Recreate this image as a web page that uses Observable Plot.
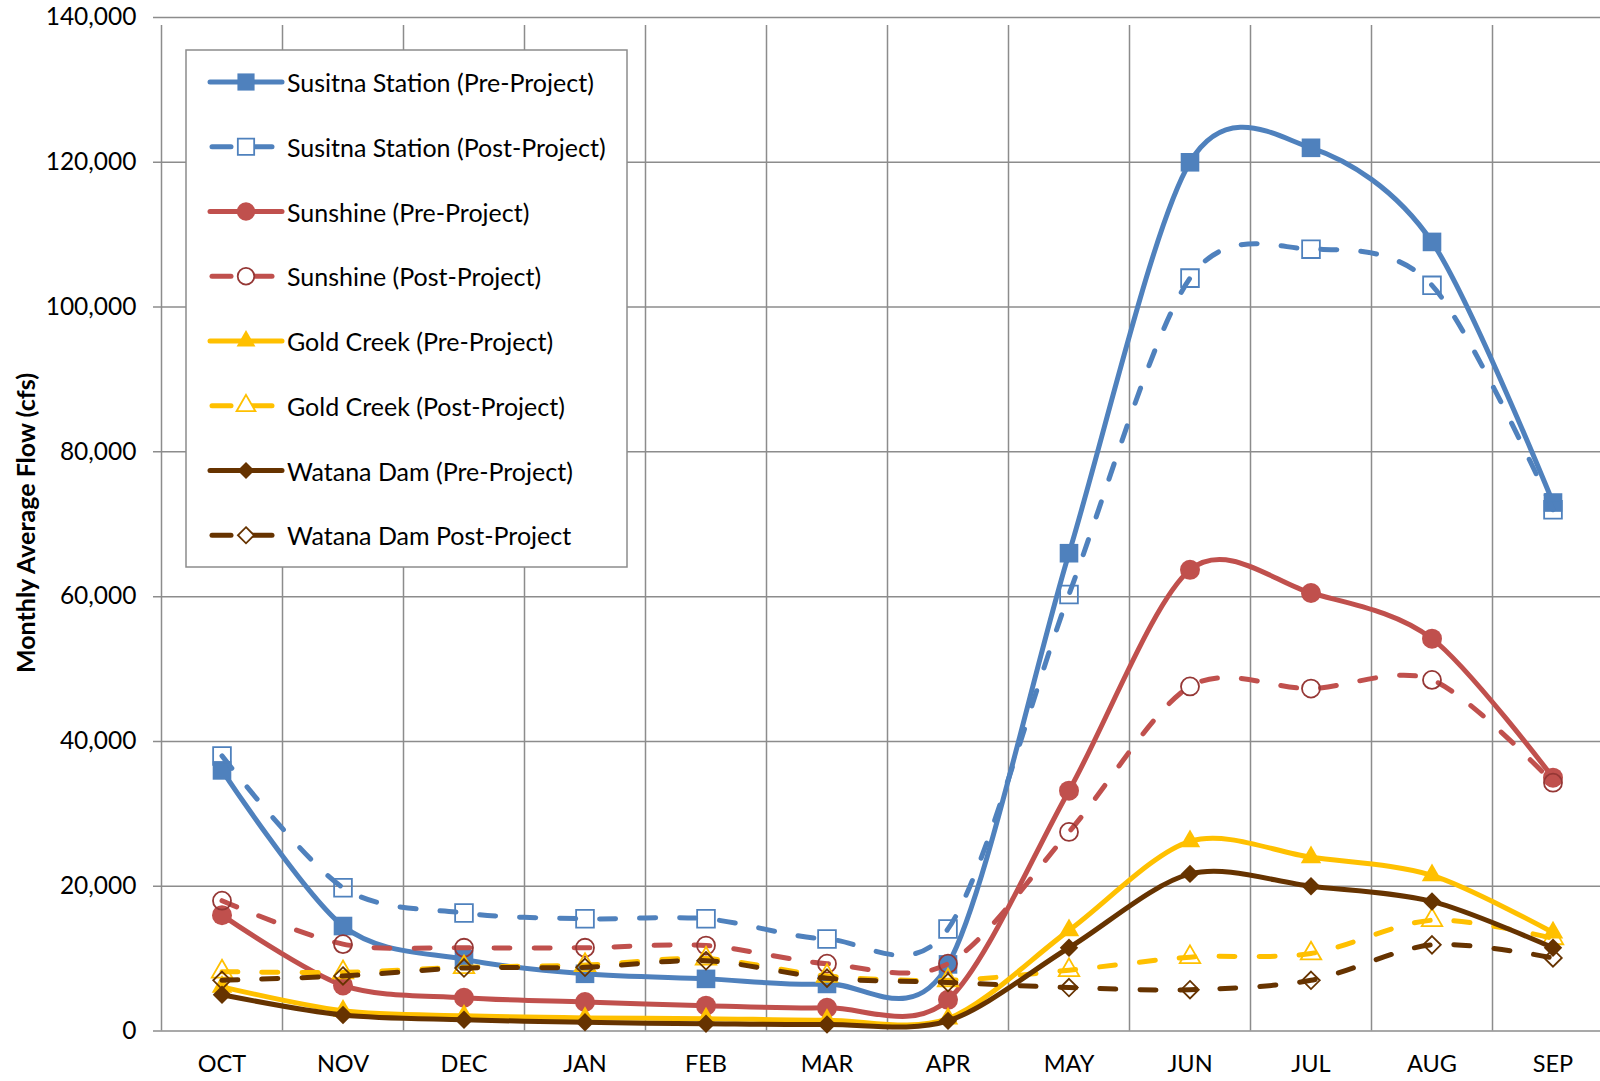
<!DOCTYPE html>
<html><head><meta charset="utf-8">
<script src="https://cdn.jsdelivr.net/npm/d3@7"></script>
<script src="https://cdn.jsdelivr.net/npm/@observablehq/plot@0.6"></script>
<style>
html,body{margin:0;padding:0;background:#fff;overflow:hidden;}
</style></head><body><div id="chart"></div>
<script>
// ---- data ----
const months = ["OCT","NOV","DEC","JAN","FEB","MAR","APR","MAY","JUN","JUL","AUG","SEP"];
const susitnaPre  = [36000,14500,9900,7900,7200,6500,9200,66000,120000,122000,109000,73000];
const susitnaPost = [38000,19800,16300,15500,15500,12700,14100,60300,104000,108000,103000,72000];
const sunshinePre = [16000,6300,4600,4000,3500,3200,4300,33200,63700,60500,54200,35000];
const sunshinePost= [18000,12000,11500,11500,11800,9300,9300,27500,47600,47300,48500,34300];
const goldPre     = [6100,2800,2100,1800,1700,1500,1700,13900,26200,24000,21500,13600];
const goldPost    = [8200,8100,8800,9100,10000,7600,7000,8400,10200,10700,15300,12800];
const watanaPre   = [5000,2200,1550,1200,1000,900,1400,11500,21700,20000,17900,11500];
const watanaPost  = [7000,7600,8700,8800,9700,7300,6700,6000,5700,7000,11900,10100];
const seriesNames = ["Susitna Station (Pre-Project)","Susitna Station (Post-Project)","Sunshine (Pre-Project)","Sunshine (Post-Project)","Gold Creek (Pre-Project)","Gold Creek (Post-Project)","Watana Dam (Pre-Project)","Watana Dam Post-Project"];
const seriesValues = [susitnaPre,susitnaPost,sunshinePre,sunshinePost,goldPre,goldPost,watanaPre,watanaPost];
const yTicks = [0,20000,40000,60000,80000,100000,120000,140000];
const yTitle = "Monthly Average Flow (cfs)";

// ---- styles ----
const styles = [
  {color:"#4F81BD", dash:false, symbol:"square",   r:10.5, fill:"#4F81BD", stroke:"none"},
  {color:"#4F81BD", dash:true,  symbol:"square",   r:10,   fill:"none",    stroke:"#4F81BD"},
  {color:"#C0504D", dash:false, symbol:"circle",   r:10,   fill:"#C0504D", stroke:"none"},
  {color:"#C0504D", dash:true,  symbol:"circle",   r:9,    fill:"none",    stroke:"#953735"},
  {color:"#FFC000", dash:false, symbol:"triangle", r:7.6,  fill:"#FFC000", stroke:"none"},
  {color:"#FFC000", dash:true,  symbol:"triangle", r:7.6,  fill:"none",    stroke:"#FFC000"},
  {color:"#663300", dash:false, symbol:"diamond2", r:8.3,  fill:"#663300", stroke:"none"},
  {color:"#663300", dash:true,  symbol:"diamond2", r:7.9,  fill:"none",    stroke:"#663300"}
];
const DASH = "16,24";
const GRID = "#8c8c8c";

const rows = seriesNames.map((name, si) => seriesValues[si].map((v, i) => ({series: name, i, v})));

const marks = [
  Plot.ruleY(yTicks, {x1: -0.5, x2: 11.5, stroke: GRID, strokeWidth: 1.5, insetLeft: -8}),
  Plot.ruleX(d3.range(-0.5, 12, 1), {y1: 0, y2: 140000, stroke: GRID, strokeWidth: 1.5, insetBottom: -8}),
  Plot.axisY(yTicks, {tickSize: 0, tickPadding: 25, tickFormat: d3.format(","), fontSize: 24.5, label: null, fill: "#000"}),
  Plot.axisX(d3.range(12), {tickSize: 0, tickPadding: 24, tickFormat: i => months[i], fontSize: 23.5, label: null, fill: "#000"})
];
rows.forEach((data, si) => {
  const s = styles[si];
  marks.push(Plot.line(data, {x: "i", y: "v", stroke: s.color, strokeWidth: 5, strokeLinecap: "round", strokeLinejoin: "round",
    strokeDasharray: s.dash ? DASH : null, curve: "cardinal", tension: 0.1}));
  marks.push(Plot.dot(data, {x: "i", y: "v", symbol: s.symbol, r: s.r, fill: s.fill, stroke: s.stroke, strokeWidth: 1.8}));
});

const chart = Plot.plot({
  width: 1600, height: 1081,
  marginLeft: 161, marginRight: 0, marginTop: 17, marginBottom: 50.5,
  style: {fontFamily: "Lato", background: "#fff", color: "#000"},
  x: {type: "linear", domain: [-0.5, 11.5], range: [161, 1613], axis: null},
  y: {domain: [0, 140000], axis: null},
  marks
});
document.getElementById("chart").append(chart);

// ---- y title & legend ----
const svg = d3.select(chart);
svg.append("text")
  .attr("transform", "translate(25,523) rotate(-90)")
  .attr("text-anchor", "middle").attr("dominant-baseline", "central")
  .attr("font-family", "Lato").attr("font-weight", "bold").attr("font-size", 25).attr("fill", "#000")
  .text(yTitle);

const lg = svg.append("g");
lg.append("rect").attr("x", 186).attr("y", 50).attr("width", 441).attr("height", 517)
  .attr("fill", "#fff").attr("stroke", GRID).attr("stroke-width", 1.5);
const symMap = {square: d3.symbolSquare, circle: d3.symbolCircle, triangle: d3.symbolTriangle, diamond2: d3.symbolDiamond2};
seriesNames.forEach((name, k) => {
  const s = styles[k];
  const y = 82 + k * 64.75;
  const g = lg.append("g").attr("transform", `translate(0,${y})`);
  const segs = s.dash ? [[212, 231], [252, 272]] : [[210, 282]];
  segs.forEach(([a, b]) => g.append("line").attr("x1", a).attr("x2", b).attr("y1", 0).attr("y2", 0)
    .attr("stroke", s.color).attr("stroke-width", 5).attr("stroke-linecap", "round"));
  g.append("path").attr("transform", "translate(246,0)")
    .attr("d", d3.symbol(symMap[s.symbol], Math.PI * s.r * s.r * 0.85)())
    .attr("fill", s.dash ? "#fff" : s.fill).attr("stroke", s.stroke).attr("stroke-width", 1.8);
  g.append("text").attr("x", 287).attr("y", 0).attr("dominant-baseline", "central").attr("text-anchor", "start")
    .attr("font-family", "Lato").attr("font-size", 25).attr("fill", "#000").text(name);
});
</script></body></html>
